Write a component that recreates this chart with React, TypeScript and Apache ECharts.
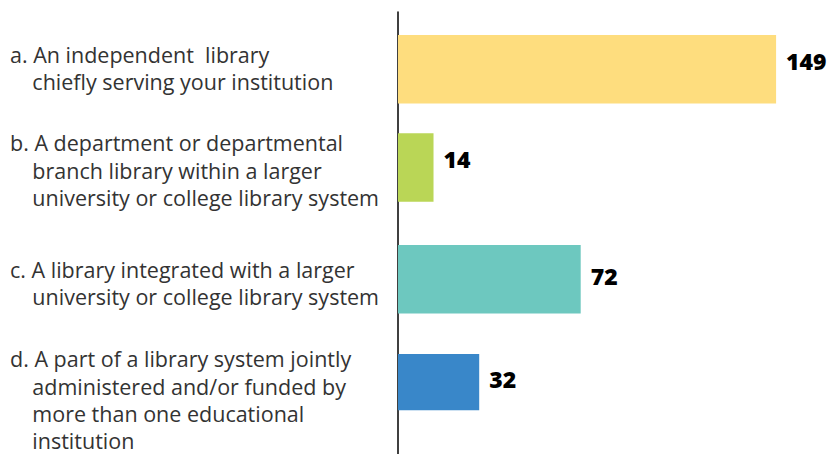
import React, { useEffect, useRef } from "react";
import * as echarts from "echarts";

const categories = [
  "a. An independent  library\n    chiefly serving your institution",
  "b. A department or departmental\n    branch library within a larger\n    university or college library system",
  "c. A library integrated with a larger\n    university or college library system",
  "d. A part of a library system jointly\n    administered and/or funded by\n    more than one educational\n    institution",
];
const values = [149, 14, 72, 32];
const colors = ["#FEDD7E", "#BAD656", "#6DC8BF", "#3987C9"];

// layout per row (page pixel positions)
const rowTops = [35, 133.3, 245, 354];
const rowHeight = 68.5;
const labelShift = [-1, 2.5, 4, 17.5];
const valueShift = [-8, -8.5, -3, -3.4];

export default function App() {
  const ref = useRef<HTMLDivElement>(null);
  useEffect(() => {
    if (!ref.current) return;
    const chart = echarts.init(ref.current, null, { renderer: "svg" });
    const grids: any[] = [];
    const xAxes: any[] = [];
    const yAxes: any[] = [];
    const series: any[] = [];
    const left = 398;
    const right = 26;
    categories.forEach((cat, i) => {
      grids.push({ left, right, top: rowTops[i], height: rowHeight });
      xAxes.push({ gridIndex: i, type: "value", min: 0, max: 160, show: false });
      const s = labelShift[i];
      yAxes.push({
        gridIndex: i,
        type: "category",
        data: [cat],
        axisLine: { show: false },
        axisTick: { show: false },
        axisLabel: {
          align: "left",
          margin: 388,
          fontFamily: "Open Sans",
          fontSize: 21.5,
          lineHeight: 27.2,
          color: "#333333",
          formatter: (v: string) =>
            s > 0 ? "{sp| }\n" + v : s < 0 ? v + "\n{sp| }" : v,
          rich: { sp: { fontSize: 1, lineHeight: Math.max(1, 2 * Math.abs(s)) } },
        },
      });
      series.push({
        type: "bar",
        xAxisIndex: i,
        yAxisIndex: i,
        data: [values[i]],
        barWidth: "100%",
        itemStyle: { color: colors[i] },
        label: {
          show: true,
          position: "right",
          distance: 10,
          offset: [0, valueShift[i]],
          fontFamily: "Open Sans",
          fontWeight: 800,
          fontSize: 23,
          color: "#000000",
        },
      });
    });
    // frame grid carrying the vertical axis line
    grids.push({ left, right, top: 12, bottom: 0 });
    xAxes.push({ gridIndex: 4, type: "value", min: 0, max: 160, show: false });
    yAxes.push({
      gridIndex: 4,
      type: "category",
      data: [""],
      axisLine: { show: true, lineStyle: { color: "#000000", width: 1.5 } },
      axisTick: { show: false },
      axisLabel: { show: false },
    });
    chart.setOption({
      animation: false,
      backgroundColor: "#ffffff",
      grid: grids,
      xAxis: xAxes,
      yAxis: yAxes,
      series,
    });
    return () => chart.dispose();
  }, []);
  return (
    <div
      ref={ref}
      style={{ position: "fixed", left: 0, top: 0, width: 830, height: 454 }}
    />
  );
}
